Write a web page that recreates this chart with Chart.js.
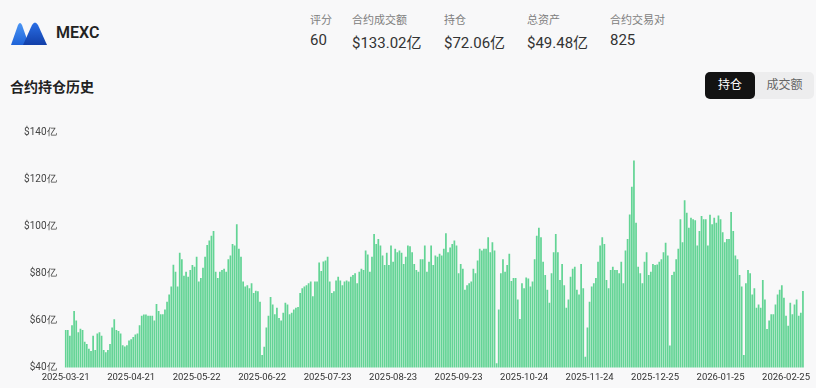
<!DOCTYPE html>
<html>
<head>
<meta charset="utf-8">
<script src="https://cdn.jsdelivr.net/npm/chart.js@4.4.1/dist/chart.umd.min.js"></script>
<style>
  body {
    margin: 0;
    width: 816px;
    height: 388px;
    background: #f8f8f9;
    font-family: Roboto, "Noto Sans CJK SC", sans-serif;
    position: relative;
    overflow: hidden;
  }
  .abs { position: absolute; white-space: nowrap; }
  .brand { left: 56px; top: 23px; font-size: 16px; font-weight: 600; color: #222; }
  .stat-label { top: 11px; font-size: 11px; color: #808080; }
  .stat-value { top: 31px; font-size: 15px; color: #333; }
  .title { left: 10px; top: 76px; font-size: 14px; font-weight: 700; color: #222; }
  .toggle {
    left: 705px; top: 72px; width: 109px; height: 27px;
    background: #ededee; border-radius: 5px;
  }
  .toggle .on {
    position: absolute; left: 0; top: 0; width: 50px; height: 27px;
    background: #131313; color: #fff; border-radius: 5px;
    font-size: 12px; line-height: 27px; text-align: center;
  }
  .toggle .off {
    position: absolute; left: 50px; top: 0; width: 59px; height: 27px;
    color: #666; font-size: 12px; line-height: 27px; text-align: center;
  }
  #chart-box { position: absolute; left: 0; top: 118px; width: 816px; height: 270px; }
</style>
</head>
<body>
<svg class="abs" style="left:10px;top:21px" width="38" height="25" viewBox="0 0 38 25">
  <defs>
    <linearGradient id="g1" x1="0" y1="0" x2="0" y2="1">
      <stop offset="0" stop-color="#4a95f5"/>
      <stop offset="1" stop-color="#1f63d8"/>
    </linearGradient>
    <linearGradient id="g2" x1="0" y1="0" x2="0" y2="1">
      <stop offset="0" stop-color="#2a6fe6"/>
      <stop offset="1" stop-color="#123fa8"/>
    </linearGradient>
  </defs>
  <path d="M1 24 L8 4 Q10 0 12 4 L19 24 Z" fill="url(#g1)"/>
  <path d="M13 24 L22 4 Q25 -1 28 4 L37 24 Z" fill="url(#g2)"/>
</svg>
<div class="abs brand">MEXC</div>

<div class="abs stat-label" style="left:310px">评分</div>
<div class="abs stat-label" style="left:352px">合约成交额</div>
<div class="abs stat-label" style="left:444px">持仓</div>
<div class="abs stat-label" style="left:527px">总资产</div>
<div class="abs stat-label" style="left:610px">合约交易对</div>
<div class="abs stat-value" style="left:310px">60</div>
<div class="abs stat-value" style="left:352px">$133.02亿</div>
<div class="abs stat-value" style="left:444px">$72.06亿</div>
<div class="abs stat-value" style="left:527px">$49.48亿</div>
<div class="abs stat-value" style="left:610px">825</div>

<div class="abs title">合约持仓历史</div>
<div class="abs toggle"><div class="on">持仓</div><div class="off">成交额</div></div>

<div id="chart-box"><canvas id="oi-chart"></canvas></div>

<script>
// open interest history, in 亿 USD, one bar per day starting 2025-03-21
const startDate = '2025-03-21';
const openInterest = [
  56, 56, 53.5, 58, 64, 60, 55, 56.5, 56, 51,
  50, 48, 47, 53.5, 47.5, 54.5, 55, 53.5, 47.5, 46.5,
  47.5, 50, 57, 60.5, 56, 55.5, 54.5, 49.5, 49, 49.5,
  51.5, 52, 53, 54, 54.5, 58, 62, 62.5, 62.5, 62,
  62, 62, 60, 67, 64, 62.6, 62.6, 64.7, 68, 71,
  74.4, 83.7, 80.7, 74.4, 88.7, 86, 79, 80.7, 78.6, 81.4,
  83.5, 82.8, 87, 76.5, 78, 82.4, 87, 92, 94, 96,
  98, 80.7, 78, 80.7, 81.4, 82, 80.7, 86, 87.6, 92.5,
  91.8, 100.8, 90.4, 87, 76.5, 74.4, 75, 73.7, 75.8, 71.7,
  72.6, 72.4, 68, 45.3, 48.8, 57, 62, 70, 66.8, 62.6,
  65.4, 61, 60, 63.3, 67.5, 66.8, 62.6, 63.3, 64.7, 65.4,
  65.7, 71.7, 73.7, 74.4, 75, 75.8, 76.5, 70.3, 76.5, 76.5,
  84.6, 81, 85, 85.5, 87, 76.5, 71.7, 72.4, 77, 78.6,
  77, 75, 76.5, 77, 76.5, 78.6, 79.3, 80, 75.8, 80.7,
  82, 81.4, 89.7, 88, 80.7, 87, 96.7, 92.5, 94.6, 91.8,
  87.6, 83.5, 88.7, 83.5, 91.8, 84.9, 90.4, 89, 89.7, 88.7,
  84, 87, 91.8, 91.5, 89, 84, 81.4, 80.7, 86, 86,
  91.8, 80.7, 84.9, 91.8, 83.5, 87.6, 87, 88.3, 87.6, 90.4,
  97, 89, 91, 92.5, 94, 91.8, 80, 84, 82, 73,
  75, 75.8, 76.5, 82, 80, 85.5, 90.4, 89.7, 90.4, 90.4,
  95.3, 89, 93.2, 89.7, 41.8, 64.7, 80, 86, 80.7, 83.5,
  88.3, 76.8, 78, 78, 68.9, 60.6, 75.8, 73.7, 78.2, 77.8,
  74.4, 76.5, 86, 96, 99.4, 95.3, 84.9, 79.3, 73, 67.5,
  80, 89, 96.7, 89, 77.2, 84, 75, 65.4, 68.9, 78.6,
  82, 82.8, 73, 71, 84, 73.7, 44.6, 57, 68, 74.4,
  75.8, 78, 84.9, 91.8, 95.3, 92.5, 77.2, 73.7, 81.4, 82.8,
  81.4, 81.4, 80, 84.9, 75.8, 89.7, 94.6, 105, 116.8, 127.9,
  101.5, 82.8, 80, 75.8, 84.9, 89, 79.3, 80.7, 84, 83.5,
  83.8, 84.9, 86, 89, 93, 87.6, 49.4, 79.3, 80.7, 86,
  90.4, 103, 93.2, 111, 105.7, 99.4, 103.6, 103, 102.5, 91.8,
  98, 104.3, 103, 103, 91.8, 104.9, 100.8, 103.6, 101.5, 104.6,
  103, 97.4, 93.2, 94.6, 94.6, 106, 98, 87.6, 86, 79.3,
  74.4, 45.3, 75.8, 81.4, 80, 71, 73.7, 65.4, 66.8, 65.4,
  77.2, 68.9, 56.4, 60, 62.6, 62.6, 66.8, 71, 73, 75,
  69.6, 62, 57.8, 67.5, 62.6, 66.8, 68.9, 62, 63.3, 72.5
];
const yTicks = [40, 60, 80, 100, 120, 140];
const xTickLabels = [
  '2025-03-21', '2025-04-21', '2025-05-22', '2025-06-22', '2025-07-23', '2025-08-23',
  '2025-09-23', '2025-10-24', '2025-11-24', '2025-12-25', '2026-01-25', '2026-02-25'
];

function buildDates(start, count) {
  const out = [];
  const d = new Date(start + 'T00:00:00Z');
  for (let i = 0; i < count; i++) {
    out.push(d.toISOString().slice(0, 10));
    d.setUTCDate(d.getUTCDate() + 1);
  }
  return out;
}

const dates = buildDates(startDate, openInterest.length);

new Chart(document.getElementById('oi-chart'), {
  type: 'bar',
  data: {
    labels: dates,
    datasets: [{
      label: '持仓',
      data: openInterest,
      backgroundColor: '#63d495',
      borderWidth: 0,
      barPercentage: 0.82,
      categoryPercentage: 1
    }]
  },
  options: {
    responsive: true,
    maintainAspectRatio: false,
    animation: false,
    layout: { padding: { top: 13, right: 12, left: 0, bottom: 1 } },
    plugins: { legend: { display: false }, tooltip: { enabled: false } },
    scales: {
      x: {
        grid: { display: false, drawTicks: false },
        border: { display: false },
        ticks: {
          autoSkip: false,
          maxRotation: 0,
          minRotation: 0,
          padding: 4,
          color: '#333',
          font: { family: 'Roboto', size: 9.5 },
          callback: (v, i) => xTickLabels.includes(dates[i]) ? dates[i] : ''
        }
      },
      y: {
        min: 40,
        max: 140,
        grid: { display: false, drawTicks: false },
        border: { display: false },
        afterBuildTicks: scale => { scale.ticks = yTicks.map(v => ({ value: v })); },
        afterFit: scale => { scale.width = 64.6; },
        ticks: {
          padding: 8,
          color: '#444',
          font: { family: 'Roboto', size: 10 },
          callback: v => '$' + v + '亿'
        }
      }
    }
  }
});
</script>
</body>
</html>
